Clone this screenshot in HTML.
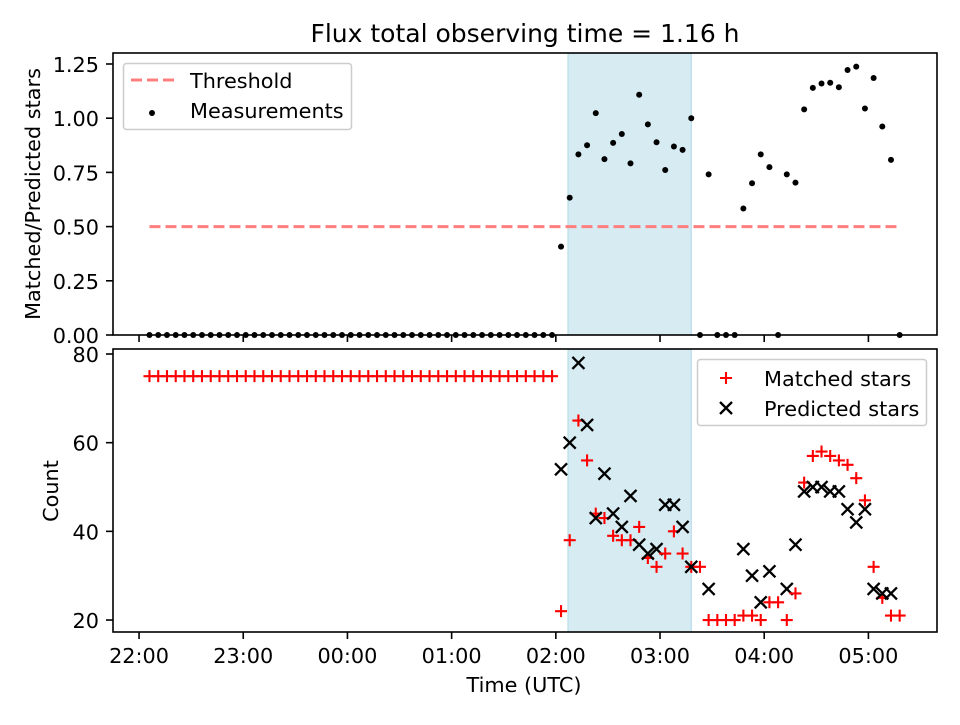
<!DOCTYPE html>
<html><head><meta charset="utf-8"><style>
html,body{margin:0;padding:0;background:#fff;}
svg text{font-family:"DejaVu Sans","Liberation Sans",sans-serif;fill:#000;}
</style></head><body>
<svg id="chart" width="960" height="720" xmlns="http://www.w3.org/2000/svg">
<rect width="960" height="720" fill="#fff"/>
<g id="topPanel"></g>
<g id="botPanel"></g>
</svg>
<script>
// minutes since 22:00 UTC
const preTimes = Array.from({length:47},(_,k)=>6+5.04*k);
const postTimes = Array.from({length:40},(_,k)=>243+5*k);
const times = preTimes.concat(postTimes);
const preMatched = Array(47).fill(75);
const postMatched = [22,38,65,56,44,43,39,38,38,41,34,32,35,40,35,32,32,20,20,20,20,21,21,20,24,24,20,26,51,57,58,57,56,55,52,47,32,25,21,21];
const matched = preMatched.concat(postMatched);
const prePredicted = Array(47).fill(null);
const postPredicted = [54,60,78,64,43,53,44,41,48,37,35,36,46,46,41,32,null,27,null,null,null,36,30,24,31,null,27,37,49,50,50,49,49,45,42,45,27,26,26,null];
const predicted = prePredicted.concat(postPredicted);
const threshold = 0.5;
const spanStart = 247, spanEnd = 318;
const xTicks = [0,60,120,180,240,300,360,420];
const xTickLabels = ["22:00","23:00","00:00","01:00","02:00","03:00","04:00","05:00"];
const topTicks = [0,0.25,0.5,0.75,1.0,1.25];
const topTickLabels = ["0.00","0.25","0.50","0.75","1.00","1.25"];
const botTicks = [20,40,60,80];

const NS="http://www.w3.org/2000/svg";
const L=113,R=937;
const xMin=-15,xMax=459.5;
const X=t=>L+(t-xMin)/(xMax-xMin)*(R-L);
const T0=53,T1=335, B0=349,B1=632;
const YT=v=>T1-(v-0)/(1.3007-0)*(T1-T0);
const YB=v=>B1-(v-17.3)/(81.13-17.3)*(B1-B0);
function el(p,tag,a){const e=document.createElementNS(NS,tag);for(const k in a)e.setAttribute(k,a[k]);p.appendChild(e);return e;}
const topG=document.getElementById('topPanel'), botG=document.getElementById('botPanel');
const FS=20.8;

let s=el(topG,'rect',{x:X(spanStart),y:T0,width:X(spanEnd)-X(spanStart),height:T1-T0,fill:'#add8e6','fill-opacity':0.5,stroke:'#add8e6'});


s=el(botG,'rect',{x:X(spanStart),y:B0,width:X(spanEnd)-X(spanStart),height:B1-B0,fill:'#add8e6','fill-opacity':0.5,stroke:'#add8e6'});



let th=el(topG,'line',{x1:X(times[0]),x2:X(times[times.length-1]),y1:YT(threshold),y2:YT(threshold),stroke:'#ff7f7f','stroke-width':3,'stroke-dasharray':'11,5'});



times.forEach((t,i)=>{
  const r = predicted[i] ? matched[i]/predicted[i] : 0;
  const c=el(topG,'circle',{cx:X(t),cy:YT(r),r:3,fill:'#000'});
  
  
});
times.forEach((t,i)=>{
  const x=X(t), y=YB(matched[i]);
  const p=el(botG,'path',{d:`M${x-6},${y}H${x+6}M${x},${y-6}V${y+6}`,stroke:'#f00','stroke-width':2.1});
  
  
  if(predicted[i]!=null){
    const yp=YB(predicted[i]);
    const q=el(botG,'path',{d:`M${x-6},${yp-6}L${x+6},${yp+6}M${x-6},${yp+6}L${x+6},${yp-6}`,stroke:'#000','stroke-width':2.3});
    
    
  }
});

function frame(g,y0,y1,name){
  const f=el(g,'rect',{x:L,y:y0,width:R-L,height:y1-y0,fill:'none',stroke:'#000','stroke-width':1.6});
  
  
  xTicks.forEach(t=>{
    el(g,'line',{x1:X(t),x2:X(t),y1:y1,y2:y1+7,stroke:'#000','stroke-width':1.6});
  });
}
frame(topG,T0,T1,'top-axes-frame');
frame(botG,B0,B1,'bottom-axes-frame');
xTicks.forEach((t,i)=>{
  const tx=el(botG,'text',{x:X(t),y:B1+31,'text-anchor':'middle','font-size':FS});
  tx.textContent=xTickLabels[i];
  
  
});
topTicks.forEach((v,i)=>{
  el(topG,'line',{x1:L-7,x2:L,y1:YT(v),y2:YT(v),stroke:'#000','stroke-width':1.6});
  const tx=el(topG,'text',{x:L-14,y:YT(v)+8,'text-anchor':'end','font-size':FS});
  tx.textContent=topTickLabels[i];
  
  
});
botTicks.forEach(v=>{
  el(botG,'line',{x1:L-7,x2:L,y1:YB(v),y2:YB(v),stroke:'#000','stroke-width':1.6});
  const tx=el(botG,'text',{x:L-14,y:YB(v)+8,'text-anchor':'end','font-size':FS});
  tx.textContent=String(v);
  
  
});
</script>
<svg width="960" height="720" style="position:absolute;left:0;top:0" xmlns="http://www.w3.org/2000/svg">
<text x="525" y="42" text-anchor="middle" font-size="25">Flux total observing time = 1.16 h</text>
<text x="524" y="692" text-anchor="middle" font-size="20.8">Time (UTC)</text>
<text transform="translate(40,194) rotate(-90)" text-anchor="middle" font-size="20.8">Matched/Predicted stars</text>
<text transform="translate(58,491) rotate(-90)" text-anchor="middle" font-size="20.8">Count</text>
<g>
<rect x="123.5" y="63.5" width="228" height="66" rx="3" fill="#fff" fill-opacity="0.8" stroke="#ccc" stroke-width="1.5"/>
<line x1="131" x2="174" y1="80" y2="80" stroke="#ff7f7f" stroke-width="3" stroke-dasharray="11,5"/>
<text x="190" y="88" font-size="20.8">Threshold</text>
<circle cx="152" cy="113" r="3" fill="#000"/>
<text x="190" y="118" font-size="20.8">Measurements</text>
</g>
<g>
<rect x="697.5" y="359.5" width="229" height="66" rx="3" fill="#fff" fill-opacity="0.8" stroke="#ccc" stroke-width="1.5"/>
<path d="M720,378H732M726,372V384" stroke="#f00" stroke-width="2.1"/>
<text x="764" y="386" font-size="20.8">Matched stars</text>
<path d="M720,402L732,414M720,414L732,402" stroke="#000" stroke-width="2.3"/>
<text x="764" y="416" font-size="20.8">Predicted stars</text>
</g>
</svg>
</body></html>
